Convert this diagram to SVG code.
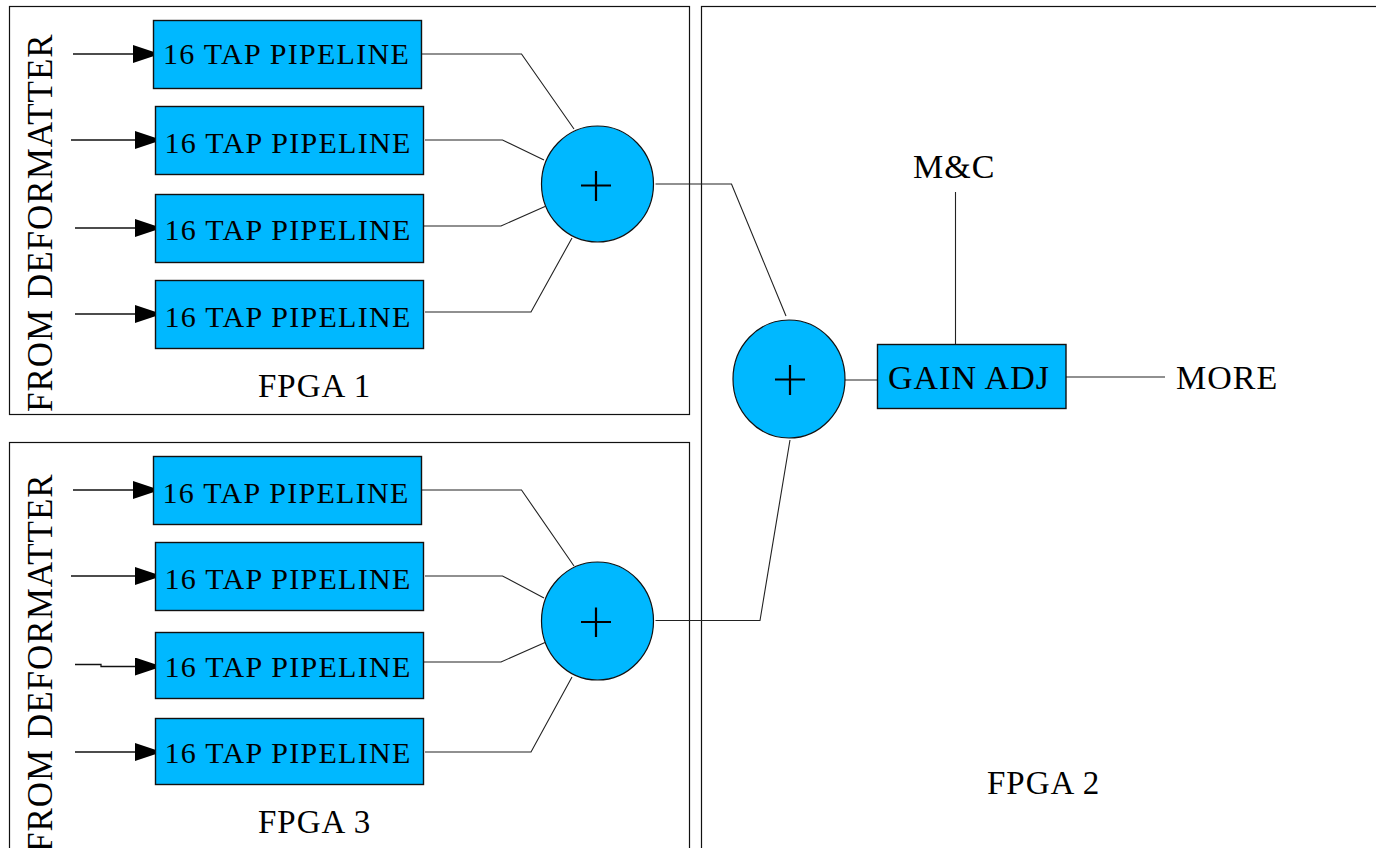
<svg xmlns="http://www.w3.org/2000/svg" width="1376" height="848" viewBox="0 0 1376 848">
<defs>
<style>
.frame{fill:none;stroke:#111;stroke-width:1.2}
.blk{fill:#00B8FF;stroke:#111;stroke-width:1.4}
.sum{fill:#00B8FF;stroke:#111;stroke-width:1.2}
.plus{stroke:#000;stroke-width:2.2;fill:none}
.wire{fill:none;stroke:#222;stroke-width:1.1}
.in{fill:none;stroke:#111;stroke-width:1.3;marker-end:url(#arr)}
.tp{font-family:"Liberation Serif","Times New Roman",serif;font-size:30px;letter-spacing:1.3px;fill:#000}
.lb{font-family:"Liberation Serif","Times New Roman",serif;font-size:33px;letter-spacing:1px;fill:#000}
.lb2{font-family:"Liberation Serif","Times New Roman",serif;font-size:34px;letter-spacing:1px;fill:#000}
.rot{font-family:"Liberation Serif","Times New Roman",serif;font-size:35px;letter-spacing:1px;fill:#000}
</style>
<marker id="arr" markerUnits="userSpaceOnUse" markerWidth="28" markerHeight="20" refX="27" refY="9" orient="auto">
<path d="M0,0 L27,9 L0,18 Z" fill="#000"/>
</marker>
</defs>
<rect width="1376" height="848" fill="#fff"/>

<g id="fpga1">
<rect class="frame" x="9.5" y="6.5" width="680" height="408"/>
<text class="lb" x="258" y="397">FPGA 1</text>
<text class="rot" transform="translate(52,412) rotate(-90)">FROM DEFORMATTER</text>
</g>
<g id="fpga2">
<rect class="frame" x="701.5" y="6.5" width="700" height="900"/>
<text class="lb" x="987" y="794">FPGA 2</text>
</g>
<g id="fpga3">
<rect class="frame" x="9.5" y="442.5" width="680" height="500"/>
<text class="lb" x="258" y="833">FPGA 3</text>
<text class="rot" transform="translate(52,852) rotate(-90)">FROM DEFORMATTER</text>
</g>

<g id="connectors">
<path class="in" d="M73,54 H160"/>
<path class="in" d="M71,140 H162"/>
<path class="in" d="M75,228 H162"/>
<path class="in" d="M75,314 H162"/>
<path class="in" d="M73,490 H160"/>
<path class="in" d="M71,576 H162"/>
<path class="in" d="M75,664.5 H101 V666.5 H162"/>
<path class="in" d="M75,752 H162"/>
<path class="wire" d="M421,54 H521.5 L574,129"/>
<path class="wire" d="M425,140 H502.5 L544,160"/>
<path class="wire" d="M423,226 H501 L545,206.5"/>
<path class="wire" d="M425,312 H531 L572,238"/>
<path class="wire" d="M421,490 H521.5 L574,566"/>
<path class="wire" d="M425,576 H502.5 L544,598"/>
<path class="wire" d="M423,662 H501 L545,642.5"/>
<path class="wire" d="M425,752 H531 L572,677"/>
<path class="wire" d="M655.5,184 H731.5 L786,316"/>
<path class="wire" d="M655.5,620.5 H760 L790,440"/>
<path class="wire" d="M845,380 H877.5"/>
<path class="wire" d="M955.5,192 V344.5"/>
<path class="wire" d="M1066,377 H1165"/>
</g>

<g id="pipe1a"><rect class="blk" x="153.5" y="20.5" width="268" height="68"/><text class="tp" x="163" y="64">16 TAP PIPELINE</text></g>
<g id="pipe1b"><rect class="blk" x="155.5" y="106.5" width="268" height="68"/><text class="tp" x="164.5" y="153">16 TAP PIPELINE</text></g>
<g id="pipe1c"><rect class="blk" x="155.5" y="194.5" width="268" height="68"/><text class="tp" x="164.5" y="240">16 TAP PIPELINE</text></g>
<g id="pipe1d"><rect class="blk" x="155.5" y="280.5" width="268" height="68"/><text class="tp" x="164.5" y="327">16 TAP PIPELINE</text></g>

<g id="pipe3a"><rect class="blk" x="153.5" y="456.5" width="268" height="68"/><text class="tp" x="162.5" y="503">16 TAP PIPELINE</text></g>
<g id="pipe3b"><rect class="blk" x="155.5" y="542.5" width="268" height="68"/><text class="tp" x="164.5" y="589">16 TAP PIPELINE</text></g>
<g id="pipe3c"><rect class="blk" x="155.5" y="632.5" width="268" height="66"/><text class="tp" x="164.5" y="677">16 TAP PIPELINE</text></g>
<g id="pipe3d"><rect class="blk" x="155.5" y="718.5" width="268" height="66"/><text class="tp" x="164.5" y="763">16 TAP PIPELINE</text></g>

<g id="sum1"><ellipse class="sum" cx="597.5" cy="184" rx="56" ry="58"/><path class="plus" d="M581,185.5 H611 M596,171 V201"/></g>
<g id="sum3"><ellipse class="sum" cx="597.5" cy="621" rx="56" ry="59"/><path class="plus" d="M581,622 H611 M596,607.5 V637"/></g>
<g id="sum2"><ellipse class="sum" cx="789" cy="379" rx="56" ry="59"/><path class="plus" d="M775,379.5 H805 M790,365 V395"/></g>

<g id="gainadj"><rect class="blk" x="877.5" y="344.5" width="188.5" height="64"/><text class="lb2" x="888" y="389">GAIN ADJ</text></g>
<g id="mc"><text class="lb2" x="913" y="178">M&amp;C</text></g>
<g id="more"><text class="lb2" x="1176" y="389">MORE</text></g>
</svg>
